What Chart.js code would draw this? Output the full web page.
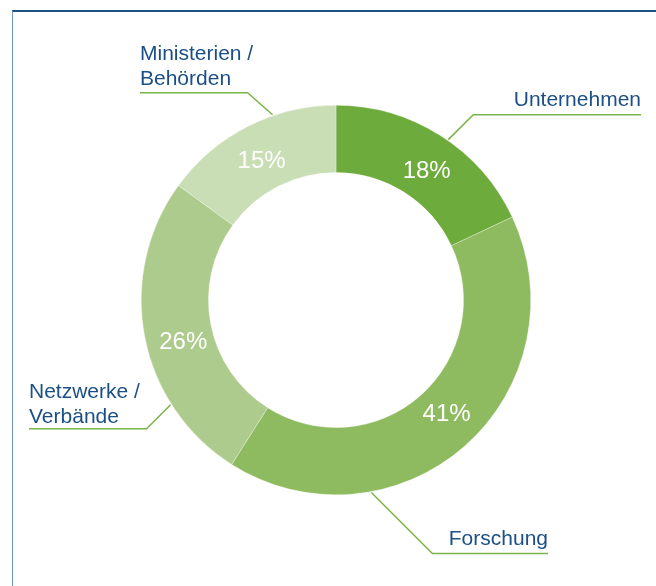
<!DOCTYPE html>
<html>
<head>
<meta charset="utf-8">
<script src="https://cdn.jsdelivr.net/npm/chart.js@4"></script>
<style>
  html, body { margin: 0; padding: 0; background: #fff; }
  #wrap { position: relative; width: 656px; height: 586px; }
  #frame { position: absolute; left: 12px; top: 10px; right: 0; bottom: 0;
           border-top: 2px solid #1d4f86; border-left: 1px solid #6f93c2; }
  canvas { position: absolute; left: 0; top: 0; }
</style>
</head>
<body>
<div id="wrap">
  <div id="frame"></div>
  <canvas id="myChart" width="656" height="586"></canvas>
</div>
<script>
// DATA
const categories = ['Unternehmen', 'Forschung', 'Netzwerke / Verbände', 'Ministerien / Behörden'];
const shares = [18, 41, 26, 15];
const segmentColors = ['#6dab3c', '#8fbb60', '#adcb8c', '#c9deb4'];

// label layout: pct = where the % sits along the segment, at = where the leader leaves the ring
const labelLayout = [
  { pct: 0.54, at: 0.54, dx: 25, dy: -25, lineTo: 641, align: 'right', gap: 9, lines: ['Unternehmen'] },
  { pct: 0.48, at: 0.71, dx: 61, dy: 61, lineTo: 548, align: 'right', gap: 9, lines: ['Forschung'] },
  { pct: 0.455, at: 0.27, dx: -24, dy: 24, lineTo: 29, align: 'left', gap: 6, lines: ['Netzwerke /', 'Verbände'] },
  { pct: 0.48, at: 0.65, dx: -25, dy: -22, lineTo: 140, align: 'left', gap: 8, lines: ['Ministerien /', 'Behörden'] }
];

const fontName = '"Liberation Sans", Arial, sans-serif';

const labelPlugin = {
  id: 'donutLabels',
  afterDatasetsDraw(chart) {
    const ctx = chart.ctx;
    const meta = chart.getDatasetMeta(0);
    ctx.save();
    meta.data.forEach((arc, i) => {
      const p = arc.getProps(['x', 'y', 'startAngle', 'endAngle', 'innerRadius', 'outerRadius'], true);
      const lay = labelLayout[i];

      // percent inside the ring
      const mid = p.startAngle + (p.endAngle - p.startAngle) * lay.pct;
      const rm = (p.innerRadius + p.outerRadius) / 2 - 3;
      ctx.fillStyle = '#ffffff';
      ctx.font = '24px ' + fontName;
      ctx.textAlign = 'center';
      ctx.textBaseline = 'middle';
      ctx.fillText(shares[i] + '%', p.x + Math.cos(mid) * rm, p.y + Math.sin(mid) * rm + 1);

      // leader line
      const a = p.startAngle + (p.endAngle - p.startAngle) * lay.at;
      const ax = p.x + Math.cos(a) * (p.outerRadius + 1);
      const ay = p.y + Math.sin(a) * (p.outerRadius + 1);
      const ex = ax + lay.dx;
      const ey = ay + lay.dy;
      ctx.strokeStyle = '#79b548';
      ctx.lineWidth = 1.5;
      ctx.beginPath();
      ctx.moveTo(ax, ay);
      ctx.lineTo(ex, ey);
      ctx.lineTo(lay.lineTo, ey);
      ctx.stroke();

      // category text above the line
      ctx.fillStyle = '#1b4f85';
      ctx.font = '21px ' + fontName;
      ctx.textAlign = lay.align;
      ctx.textBaseline = 'alphabetic';
      const n = lay.lines.length;
      lay.lines.forEach((t, k) => {
        ctx.fillText(t, lay.lineTo, ey - lay.gap - (n - 1 - k) * 25);
      });
    });
    ctx.restore();
  }
};

const data = {
  labels: categories,
  datasets: [{
    data: shares,
    backgroundColor: segmentColors,
    borderWidth: 0.5,
    borderColor: 'rgba(255,255,255,0.6)'
  }]
};

const config = {
  type: 'doughnut',
  data: data,
  options: {
    responsive: false,
    animation: false,
    cutout: '65.5%',
    rotation: 0,
    layout: { padding: { left: 141, right: 125, top: 105, bottom: 91 } },
    plugins: {
      legend: { display: false },
      tooltip: { enabled: false }
    }
  },
  plugins: [labelPlugin]
};

const myChart = new Chart(document.getElementById('myChart'), config);
</script>
</body>
</html>
